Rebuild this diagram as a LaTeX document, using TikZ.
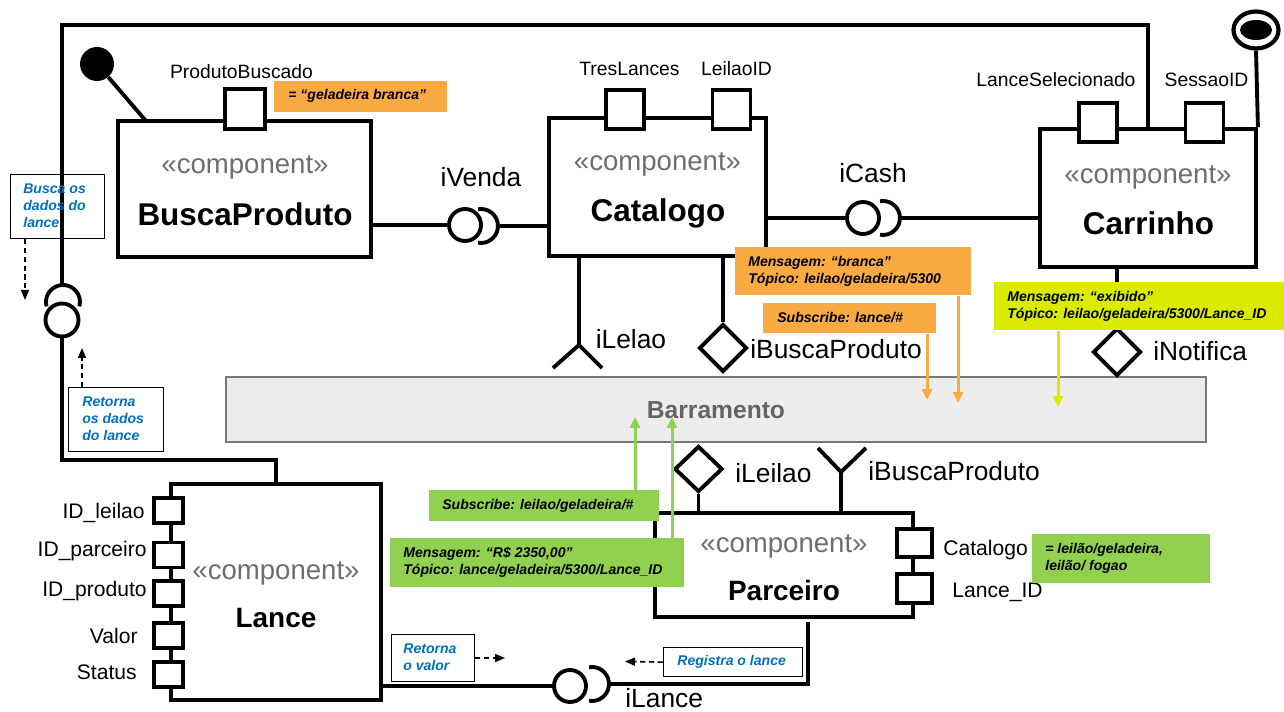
\documentclass[tikz,border=0pt]{standalone}
\usepackage{fontspec}
\setmainfont{Liberation Sans}
\usetikzlibrary{shapes.geometric,arrows.meta}
\definecolor{noteorange}{RGB}{250,170,66}
\definecolor{notegreen}{RGB}{146,208,80}
\definecolor{noteyellow}{RGB}{218,235,0}
\definecolor{bluetxt}{RGB}{0,112,192}
\definecolor{stereo}{RGB}{110,110,110}
\definecolor{busfill}{RGB}{237,237,237}
\definecolor{busdraw}{RGB}{120,120,120}
\definecolor{bustxt}{RGB}{100,100,100}
\begin{document}
\begin{tikzpicture}[x=0.02cm,y=-0.02cm,
 thickline/.style={line width=2.2pt},
 comp/.style={draw, line width=2.2pt, inner sep=0pt, fill=white},
 port/.style={draw, line width=2.2pt, inner sep=0pt, fill=white},
 ball/.style={circle, draw, line width=2.2pt, inner sep=0pt, minimum size=0.64cm, fill=white},
 iface/.style={diamond, draw, line width=2.2pt, inner sep=0pt, minimum width=0.96cm, minimum height=0.96cm, fill=white},
 stereotxt/.style={text=stereo, font=\fontsize{15.7}{18}\selectfont, inner sep=0pt},
 nametxt/.style={font=\fontsize{17.9}{20}\selectfont\bfseries, inner sep=0pt},
 smallname/.style={font=\fontsize{15.9}{18}\selectfont\bfseries, inner sep=0pt},
 lbl/.style={font=\fontsize{11}{13}\selectfont, inner sep=0pt},
 plbl/.style={font=\fontsize{12}{14}\selectfont, inner sep=0pt},
 ilbl/.style={font=\fontsize{15}{17}\selectfont, inner sep=0pt},
 notebox/.style={anchor=north west, inner sep=0pt},
 bluebox/.style={anchor=north west, inner sep=0pt, draw=black, line width=0.7pt},
 notetxt/.style={anchor=west, inner sep=0pt, align=left, font=\fontsize{8}{9.6}\selectfont\bfseries\itshape},
 bluetext/.style={anchor=west, inner sep=0pt, align=left, text=bluetxt, font=\fontsize{8}{9.6}\selectfont\bfseries\itshape},
 busarrow/.style={line width=1.7pt, -{Triangle[length=0.22cm,width=0.2cm]}},
 dasharrow/.style={line width=0.9pt, dash pattern=on 3pt off 2pt, -{Triangle[length=0.2cm,width=0.16cm]}},
]
\useasboundingbox (0,0) rectangle (1284,712);

% bus
\node[draw=busdraw, fill=busfill, line width=0.8pt, minimum width=19.6cm, minimum height=1.3cm, inner sep=0pt] (bus) at (716,409.5) {};

% components
\node[comp, minimum width=5.06cm, minimum height=2.72cm] (busca) at (244.5,189) {};
\node[comp, minimum width=4.34cm, minimum height=2.76cm] (catalogo) at (657.5,187) {};
\node[comp, minimum width=4.32cm, minimum height=2.76cm] (carrinho) at (1148,198) {};
\node[comp, minimum width=4.2cm, minimum height=4.32cm] (lance) at (276,592) {};
\node[comp, minimum width=5.16cm, minimum height=2.08cm] (parceiro) at (784,565) {};

% balls and interfaces
\node[ball] (ballVenda) at (465,225) {};
\node[ball] (ballCash) at (863,218) {};
\node[ball] (ballLance) at (570,686) {};
\node[ball, minimum size=0.66cm] (ballLeft) at (62,320) {};
\node[circle, fill=black, inner sep=0pt, minimum size=0.68cm] (bpBall) at (97,64) {};
\node[ellipse, draw, line width=2.4pt, inner sep=0pt, minimum width=0.9cm, minimum height=0.74cm] (crBall) at (1256,30) {};
\fill (crBall.center) ellipse [x radius=0.32cm, y radius=0.2cm];
\node[iface] (dBusca) at (723,348) {};
\node[iface] (dNot) at (1117,352) {};
\node[iface, minimum height=0.92cm] (dLeilao) at (698.5,469) {};

% coordinates
\coordinate (sVenda) at (498,226);
\coordinate (sCash) at (900,218);
\coordinate (sLance) at (609,684);
\coordinate (sLeft) at (62,285);
\coordinate (cLance1) at (808,684);
\coordinate (cL1) at (276,460);
\coordinate (cL2) at (62,460);
\coordinate (cT1) at (62,25);
\coordinate (cT2) at (1148,25);
\coordinate (bpEnd) at (146,121);
\coordinate (cLelao) at (579,345);
\coordinate (cYB) at (841,472);

% connectors
\draw[thickline] (ballVenda.west) -- (ballVenda.west -| busca.east);
\draw[thickline] (sVenda) -- (sVenda -| catalogo.west);
\draw[thickline] (ballCash.west) -- (ballCash.west -| catalogo.east);
\draw[thickline] (sCash) -- (sCash -| carrinho.west);
\draw[thickline] (lance.east |- ballLance) -- (ballLance.west);
\draw[thickline, shorten >=2pt] (sLance) -- (cLance1) -- (cLance1 |- parceiro.south);
\draw[thickline] (lance.north) -- (cL1) -- (cL2) -- (ballLeft.south);
\draw[thickline] (sLeft) -- (cT1) -- (cT2) -- (carrinho.north);
\draw[thickline] (bpBall) -- (bpEnd);
\draw[thickline] (crBall.south) -- (carrinho.north east);
\draw[thickline] (cLelao |- catalogo.south) -- (cLelao);
\draw[thickline] (cLelao) -- ++(-26,23);
\draw[thickline] (cLelao) -- ++(23,23);
\draw[thickline] (dBusca.north |- catalogo.south) -- (dBusca.north);
\draw[thickline] (dNot.north |- carrinho.south) -- (dNot.north);
\draw[thickline] (dLeilao.south) -- (dLeilao.south |- parceiro.north);
\draw[thickline] (cYB |- parceiro.north) -- (cYB);
\draw[thickline] (cYB) -- ++(-23,-24);
\draw[thickline] (cYB) -- ++(25,-24);

% sockets
\draw[thickline] ([shift={(481,226)}]100:0.34cm) arc[start angle=100, end angle=-100, radius=0.34cm];
\draw[thickline] ([shift={(883,218)}]100:0.34cm) arc[start angle=100, end angle=-100, radius=0.34cm];
\draw[thickline] ([shift={(592,684)}]100:0.34cm) arc[start angle=100, end angle=-100, radius=0.34cm];
\draw[thickline] ([shift={(63,302)}]195:0.34cm) arc[start angle=195, end angle=-15, radius=0.34cm];

% ports
\node[port, minimum width=0.8cm, minimum height=0.8cm] (pProd) at (245,109) {};
\node[port, minimum width=0.76cm, minimum height=0.78cm] (pTres) at (625,109.5) {};
\node[port, minimum width=0.76cm, minimum height=0.78cm] (pLeil) at (731.5,109.5) {};
\node[port, minimum width=0.76cm, minimum height=0.78cm] (pLSel) at (1098,122.5) {};
\node[port, minimum width=0.76cm, minimum height=0.78cm] (pSess) at (1204.5,122.5) {};
\node[port, minimum width=0.58cm, minimum height=0.5cm] (pIdL) at (168.5,510.5) {};
\node[port, minimum width=0.58cm, minimum height=0.5cm] (pIdP) at (168.5,555) {};
\node[port, minimum width=0.58cm, minimum height=0.5cm] (pIdPr) at (168.5,593.5) {};
\node[port, minimum width=0.58cm, minimum height=0.5cm] (pVal) at (168.5,635.5) {};
\node[port, minimum width=0.58cm, minimum height=0.5cm] (pStat) at (168.5,674.5) {};
\node[port, minimum width=0.7cm, minimum height=0.56cm] (pCat) at (914.5,543) {};
\node[port, minimum width=0.7cm, minimum height=0.58cm] (pLID) at (914.5,588.5) {};

% component texts
\node[stereotxt] (tBusS) at (245,167) {«component»};
\node[nametxt] (tBusN) at (245,214) {BuscaProduto};
\node[stereotxt] (tCatS) at (657.5,164) {«component»};
\node[nametxt] (tCatN) at (658,213) {Catalogo};
\node[stereotxt] (tCarS) at (1148,177) {«component»};
\node[nametxt] (tCarN) at (1148.5,223) {Carrinho};
\node[stereotxt] (tLanS) at (276,573) {«component»};
\node[smallname] (tLanN) at (276,618) {Lance};
\node[stereotxt] (tParS) at (784,546) {«component»};
\node[smallname] (tParN) at (784,591) {Parceiro};
\node[font=\fontsize{14}{16}\selectfont\bfseries, text=bustxt, inner sep=0pt] (busT) at (716,410) {Barramento};

% port labels
\node[lbl] (lProd) at (241.5,72) {ProdutoBuscado};
\node[lbl] (lTres) at (629.5,69) {TresLances};
\node[lbl] (lLeil) at (736.5,69) {LeilaoID};
\node[lbl] (lLSel) at (1056,80) {LanceSelecionado};
\node[lbl] (lSess) at (1206.5,80) {SessaoID};
\node[plbl, anchor=east] (lIdL) at (145,513) {ID\_leilao};
\node[plbl, anchor=east] (lIdP) at (147,551) {ID\_parceiro};
\node[plbl, anchor=east] (lIdPr) at (147,591) {ID\_produto};
\node[plbl, anchor=east] (lVal) at (138,636) {Valor};
\node[plbl, anchor=east] (lStat) at (137,672) {Status};
\node[plbl, anchor=west] (lCat) at (943,550) {Catalogo};
\node[plbl, anchor=west] (lLID) at (952,592) {Lance\_ID};

% interface labels
\node[ilbl] (iVenda) at (481,177) {iVenda};
\node[ilbl] (iCash) at (873,173) {iCash};
\node[ilbl] (iLelao) at (631,339) {iLelao};
\node[ilbl, anchor=west] (iBP1) at (750,349) {iBuscaProduto};
\node[ilbl, anchor=west] (iNot) at (1153,351) {iNotifica};
\node[ilbl, anchor=west] (iLei) at (735,473) {iLeilao};
\node[ilbl, anchor=west] (iBP2) at (868,471) {iBuscaProduto};
\node[ilbl, anchor=west] (iLan) at (625,698) {iLance};

% notes
\node[notebox, fill=noteorange, minimum width=3.46cm, minimum height=0.62cm] (nGel) at (274,81) {};
\node[notetxt] (nGelT) at (288,96) {= “geladeira branca”};
\node[notebox, fill=noteorange, minimum width=4.72cm, minimum height=0.96cm] (nMsgB) at (735,247) {};
\node[notetxt] (nMsgBT) at (748,271) {Mensagem: “branca”\\Tópico: leilao/geladeira/5300};
\node[notebox, fill=noteorange, minimum width=3.46cm, minimum height=0.6cm] (nSubL) at (763,303) {};
\node[notetxt] (nSubLT) at (777,318) {Subscribe: lance/\#};
\node[notebox, fill=noteyellow, minimum width=5.8cm, minimum height=0.96cm] (nMsgE) at (994,282) {};
\node[notetxt] (nMsgET) at (1007,306) {Mensagem: “exibido”\\Tópico: leilao/geladeira/5300/Lance\_ID};
\node[notebox, fill=notegreen, minimum width=4.6cm, minimum height=0.62cm] (nSubG) at (429,490) {};
\node[notetxt] (nSubGT) at (442,505.5) {Subscribe: leilao/geladeira/\#};
\node[notebox, fill=notegreen, minimum width=5.88cm, minimum height=0.98cm] (nMsgR) at (390,538) {};
\node[notetxt] (nMsgRT) at (403,562.5) {Mensagem: “R\$ 2350,00”\\Tópico: lance/geladeira/5300/Lance\_ID};
\node[notebox, fill=notegreen, minimum width=3.56cm, minimum height=0.98cm] (nCat) at (1032,534) {};
\node[notetxt] (nCatT) at (1045,558) {= leilão/geladeira,\\leilão/ fogao};

% blue comment boxes
\node[bluebox, minimum width=1.88cm, minimum height=1.28cm] (bBusca) at (10,174) {};
\node[bluetext] (bBuscaT) at (23,206) {Busca os\\dados do\\lance};
\node[bluebox, minimum width=1.9cm, minimum height=1.28cm] (bRetD) at (68,387) {};
\node[bluetext] (bRetDT) at (82,419) {Retorna\\os dados\\do lance};
\node[bluebox, minimum width=1.66cm, minimum height=0.94cm] (bRetV) at (391,634) {};
\node[bluetext] (bRetVT) at (403,657.5) {Retorna\\o valor};
\node[bluebox, minimum width=2.78cm, minimum height=0.58cm] (bReg) at (663,647) {};
\node[bluetext] (bRegT) at (677,661.5) {Registra o lance};

% colored bus arrows
\coordinate (oa1) at (927,400);
\coordinate (oa2) at (958,403);
\coordinate (ya) at (1058,407);
\coordinate (ga1) at (635,417);
\coordinate (ga2) at (672,417);
\draw[busarrow, draw=noteorange] (oa1 |- nSubL.south) -- (oa1);
\draw[busarrow, draw=noteorange] (oa2 |- nMsgB.south) -- (oa2);
\draw[busarrow, draw=noteyellow] (ya |- nMsgE.south) -- (ya);
\draw[busarrow, draw=notegreen] (ga1 |- nSubG.north) -- (ga1);
\draw[busarrow, draw=notegreen] (ga2 |- nMsgR.north) -- (ga2);

% dashed arrows
\coordinate (dA1) at (25,300);
\coordinate (dA2) at (82,348);
\coordinate (dA3) at (505,658);
\coordinate (dA4) at (625,661.5);
\draw[dasharrow] (bBusca.south -| dA1) -- (dA1);
\draw[dasharrow] (bRetD.north -| dA2) -- (dA2);
\draw[dasharrow] (bRetV.east |- dA3) -- (dA3);
\draw[dasharrow] (bReg.west) -- (dA4);
\end{tikzpicture}
\end{document}
